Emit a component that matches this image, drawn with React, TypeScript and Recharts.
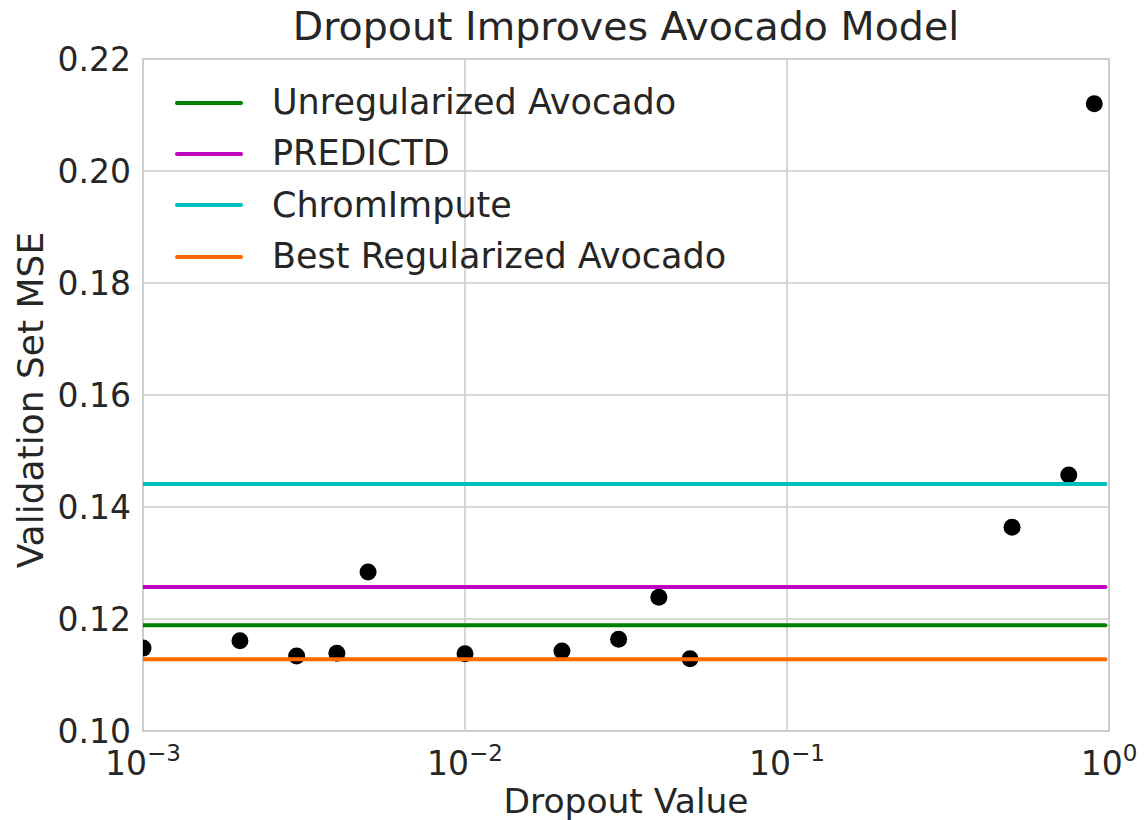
import { ComposedChart, Scatter, XAxis, YAxis, CartesianGrid, ReferenceArea } from "recharts";

const dropoutValues = [0.001, 0.002, 0.003, 0.004, 0.005, 0.01, 0.02, 0.03, 0.04, 0.05, 0.5, 0.75, 0.9];
const validationMse = [0.1148, 0.1161, 0.1134, 0.1139, 0.1284, 0.1138, 0.1143, 0.1164, 0.1239, 0.1129, 0.1364, 0.1457, 0.2120];

const baselineNames = ["Unregularized Avocado", "PREDICTD", "ChromImpute", "Best Regularized Avocado"];
const baselineValues = [0.1189, 0.1257, 0.1441, 0.1128];
const baselineColors = ["#008000", "#bf00bf", "#00bfbf", "#ff6a00"];
const lineSpan = [0.001, 0.975];

const xTicks = [0.001, 0.01, 0.1, 1];
const yTicks = [0.1, 0.12, 0.14, 0.16, 0.18, 0.2, 0.22];

const textColor = "#262626";
const font = "'DejaVu Sans', sans-serif";

const points = dropoutValues.map((x, i) => ({ x, y: validationMse[i] }));

const baselines = baselineNames.map((name, i) => ({
  name,
  color: baselineColors[i],
  data: lineSpan.map((x) => ({ x, y: baselineValues[i] })),
}));

function XTick({ x, y, payload }: any) {
  const exp = Math.round(Math.log10(payload.value));
  return (
    <text x={x} y={y + 36} textAnchor="middle" fill={textColor} fontFamily={font}>
      <tspan fontSize={33}>10</tspan>
      <tspan fontSize={23} dy={-14}>{exp < 0 ? "\u2212" + Math.abs(exp) : String(exp)}</tspan>
    </text>
  );
}

function Dot({ cx, cy }: any) {
  return <circle cx={cx} cy={cy} r={8.5} fill="#000" />;
}

function NoDot() {
  return <g />;
}

function LegendBox() {
  return (
    <div
      style={{
        position: "absolute",
        left: 175,
        top: 77,
        fontFamily: font,
        fontSize: 35,
        color: textColor,
      }}
    >
      {baselines.map((b) => (
        <div key={b.name} style={{ display: "flex", alignItems: "center", height: 51.3 }}>
          <div style={{ width: 68, height: 4, borderRadius: 2, background: b.color, marginRight: 29 }} />
          <span style={{ lineHeight: 1 }}>{b.name}</span>
        </div>
      ))}
    </div>
  );
}

export default function App() {
  return (
    <div style={{ position: "absolute", left: 0, top: 0, width: 1145, height: 820, background: "#fff" }}>
      <div
        style={{
          position: "absolute",
          left: 0,
          width: 1252,
          top: 3,
          textAlign: "center",
          fontFamily: font,
          fontSize: 39.5,
          color: textColor,
        }}
      >
        Dropout Improves Avocado Model
      </div>
      <ComposedChart width={1145} height={820} margin={{ top: 59, right: 36, bottom: 29, left: 43 }}>
        <CartesianGrid stroke="#cccccc" strokeWidth={1.6} />
        <ReferenceArea x1={0.001} x2={1} y1={0.1} y2={0.22} fill="none" stroke="#cccccc" strokeWidth={2} />
        <XAxis
          dataKey="x"
          type="number"
          scale="log"
          domain={[0.001, 1]}
          allowDataOverflow
          ticks={xTicks}
          height={60}
          axisLine={false}
          tickLine={false}
          tick={<XTick />}
          label={{
            value: "Dropout Value",
            position: "insideBottom",
            offset: -22,
            fontSize: 34.5,
            fill: textColor,
            fontFamily: font,
          }}
        />
        <YAxis
          dataKey="y"
          type="number"
          domain={[0.1, 0.22]}
          ticks={yTicks}
          width={100}
          axisLine={false}
          tickLine={false}
          tickSize={0}
          tickMargin={12}
          tickFormatter={(v: number) => v.toFixed(2)}
          tick={{ fontSize: 33, fill: textColor, fontFamily: font }}
          label={{
            content: ({ viewBox }: any) => {
              const cx = 43;
              const cy = viewBox.y + viewBox.height / 2 + 5;
              return (
                <text
                  x={cx}
                  y={cy}
                  transform={`rotate(-90 ${cx} ${cy})`}
                  textAnchor="middle"
                  fontSize={36}
                  fill={textColor}
                  fontFamily={font}
                >
                  Validation Set MSE
                </text>
              );
            },
          }}
        />
        <Scatter data={points} shape={<Dot />} legendType="none" isAnimationActive={false} />
        {baselines.map((b) => (
          <Scatter
            key={b.name}
            name={b.name}
            data={b.data}
            line={{ stroke: b.color, strokeWidth: 4, strokeLinecap: "round" }}
            shape={<NoDot />}
            fill={b.color}
            legendType="line"
            isAnimationActive={false}
          />
        ))}
      </ComposedChart>
      <LegendBox />
    </div>
  );
}
